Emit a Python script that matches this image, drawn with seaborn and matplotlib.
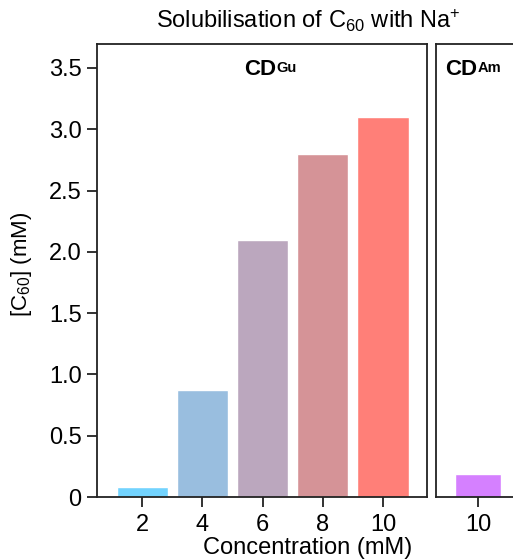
import matplotlib
matplotlib.use("Agg")
import matplotlib.pyplot as plt
import seaborn as sns
from matplotlib.ticker import FuncFormatter, MultipleLocator

# Solubilised C60 for each host concentration (mM)
gu_conc = ["2", "4", "6", "8", "10"]
gu_c60 = [0.08, 0.87, 2.10, 2.80, 3.10]
gu_colors = ["#72D3FE", "#99BEDF", "#BBA7BE", "#D59397", "#FF7F78"]

am_conc = ["10"]
am_c60 = [0.19]
am_color = "#D580FF"

sns.set_theme(style="ticks")
plt.rcParams["font.family"] = ["Liberation Sans", "DejaVu Sans"]
plt.rcParams["mathtext.fontset"] = "custom"
plt.rcParams["mathtext.rm"] = "Liberation Sans"
plt.rcParams["mathtext.it"] = "Liberation Sans:italic"
plt.rcParams["mathtext.bf"] = "Liberation Sans:bold"
for key in ("text.color", "axes.labelcolor", "xtick.color", "ytick.color"):
    plt.rcParams[key] = "black"

W, H = 513, 560
fig = plt.figure(figsize=(W / 100, H / 100), dpi=100)

ax1 = fig.add_axes([97 / W, 63 / H, 330 / W, 453 / H])
ax2 = fig.add_axes([436 / W, 63 / H, 84 / W, 453 / H])

sns.barplot(x=gu_conc, y=gu_c60, hue=gu_conc, palette=gu_colors,
            width=0.85, legend=False, saturation=1, ax=ax1)
sns.barplot(x=am_conc, y=am_c60, color=am_color, width=0.55,
            saturation=1, ax=ax2)

for ax in (ax1, ax2):
    ax.set_ylim(0, 3.695)
    ax.set_xlabel("")
    ax.set_ylabel("")
    for s in ax.spines.values():
        s.set_linewidth(1.3)
        s.set_color("#222222")
    ax.tick_params(axis="x", length=7, width=1.3, labelsize=17, pad=5,
                   color="#222222")

ax1.set_xlim(-0.75, 4.73)
ax2.set_xlim(-0.5, 0.5)

ax1.yaxis.set_major_locator(MultipleLocator(0.5))
ax1.yaxis.set_major_formatter(
    FuncFormatter(lambda v, _: "0" if abs(v) < 1e-9 else f"{v:.1f}"))
ax1.tick_params(axis="y", length=7, width=1.3, labelsize=17, pad=4,
                color="#222222")
ax2.tick_params(axis="y", left=False, labelleft=False)


def panel_label(ax, x, main, sup):
    """Bold host name with a small superscript aligned to its cap line."""
    t = ax.text(x, 0.944, main, transform=ax.transAxes, ha="right",
                va="center", fontsize=16, fontweight="bold")
    ax.annotate(sup, xy=(1, 0.9), xycoords=t, xytext=(0.3, 0),
                textcoords="offset points", ha="left", va="top",
                fontsize=10.5, fontweight="bold")


panel_label(ax1, 0.542, "CD", "Gu")
panel_label(ax2, 0.49, "CD", "Am")

fig.text(308 / W, 1 - 21 / H, r"Solubilisation of C$_{60}$ with Na$^{+}$",
         ha="center", va="center", fontsize=17)
fig.text(308 / W, 1 - 548 / H, "Concentration (mM)",
         ha="center", va="center", fontsize=17)
fig.text(21 / W, 1 - 264 / H, r"[C$_{60}$] (mM)", rotation=90,
         ha="center", va="center", fontsize=16)

fig.savefig("out.png", dpi=100)
